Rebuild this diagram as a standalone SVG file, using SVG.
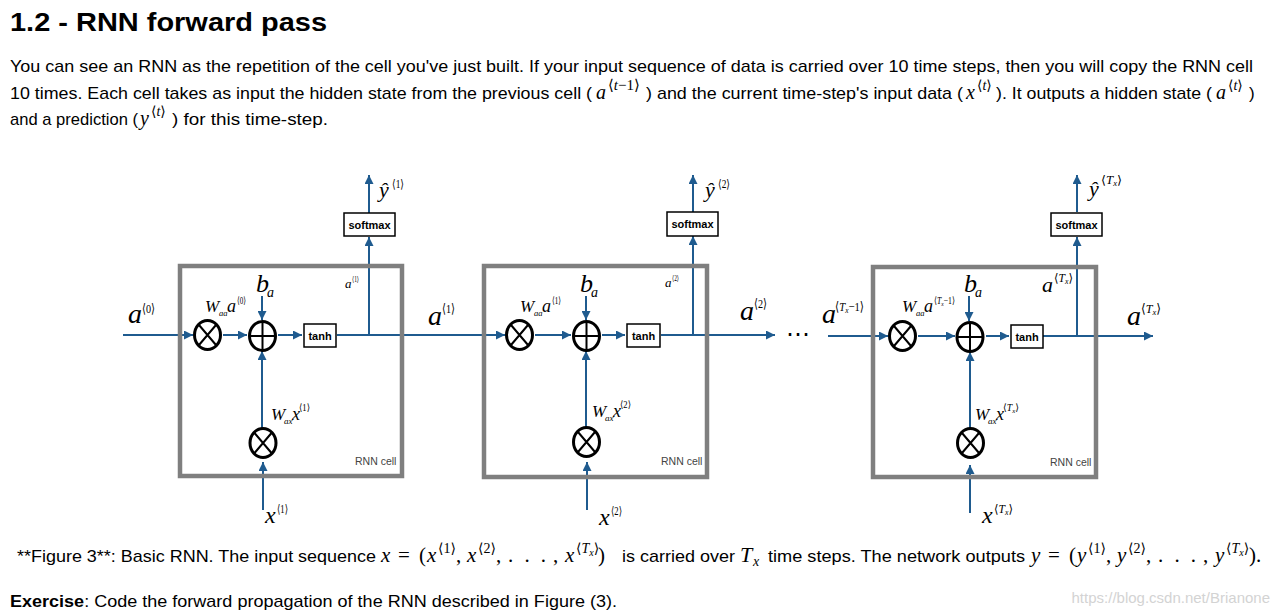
<svg xmlns="http://www.w3.org/2000/svg" width="1281" height="616" viewBox="0 0 1281 616">
<style>
.t{font-family:"Liberation Sans","DejaVu Sans",sans-serif;font-size:17px;fill:#000}
.h{font-family:"Liberation Sans","DejaVu Sans",sans-serif;font-size:26px;font-weight:bold;fill:#000}
.m{font-family:"Liberation Serif","DejaVu Serif",serif;font-style:italic;fill:#000}
.u{font-family:"Liberation Serif","DejaVu Serif",serif;font-style:normal;fill:#000}
.cell{fill:none;stroke:#7f7f7f;stroke-width:4.5}
.op{fill:#fff;stroke:#000;stroke-width:3}
.opl{stroke:#000;stroke-width:2;fill:none}
.bx{fill:#fff;stroke:#000;stroke-width:1.5}
.bt{font-family:"Liberation Sans","DejaVu Sans",sans-serif;font-size:11px;font-weight:bold;fill:#000;text-anchor:middle}
.rc{font-family:"Liberation Sans","DejaVu Sans",sans-serif;font-size:10.5px;fill:#444}
.c{fill:none;stroke:#1f5b8f;stroke-width:2;marker-end:url(#ah)}
</style>
<defs>
<marker id="ah" viewBox="0 0 10 10" refX="10" refY="5" markerUnits="userSpaceOnUse" markerWidth="10" markerHeight="9" orient="auto">
<path d="M0,0 L10,5 L0,10 z" fill="#1f5b8f"/>
</marker>
<g id="otimes"><ellipse class="op" cx="0" cy="0" rx="13" ry="14.5"/><path class="opl" d="M-8.5,-10 L8.5,10 M8.5,-10 L-8.5,10"/></g>
<g id="oplus"><ellipse class="op" cx="0" cy="0" rx="13" ry="14.5"/><path class="opl" d="M-13,0 H13 M0,-14.5 V14.5"/></g>
</defs>
<rect width="1281" height="616" fill="#fff"/>

<g id="text">
<text class="h" x="10" y="31" textLength="317" lengthAdjust="spacingAndGlyphs">1.2 - RNN forward pass</text>
<text class="t" x="10" y="72" textLength="1243" lengthAdjust="spacingAndGlyphs">You can see an RNN as the repetition of the cell you've just built. If your input sequence of data is carried over 10 time steps, then you will copy the RNN cell</text>
<text class="t" x="10" y="99" textLength="582" lengthAdjust="spacingAndGlyphs">10 times. Each cell takes as input the hidden state from the previous cell (</text>
<text class="m" x="596" y="99" font-size="20">a</text>
<text class="u" x="608" y="90" font-size="15">⟨<tspan class="m">t</tspan>−1⟩</text>
<text class="t" x="646" y="99" textLength="317" lengthAdjust="spacingAndGlyphs">) and the current time-step's input data (</text>
<text class="m" x="966" y="99" font-size="20">x</text>
<text class="u" x="977" y="90" font-size="14">⟨<tspan class="m">t</tspan>⟩</text>
<text class="t" x="996" y="99" textLength="216" lengthAdjust="spacingAndGlyphs">). It outputs a hidden state (</text>
<text class="m" x="1216" y="99" font-size="20">a</text>
<text class="u" x="1228" y="90" font-size="14">⟨<tspan class="m">t</tspan>⟩</text>
<text class="t" x="1249" y="99">)</text>
<text class="t" x="10" y="125" textLength="128" lengthAdjust="spacingAndGlyphs">and a prediction (</text>
<text class="m" x="140" y="125" font-size="20">y</text>
<text class="u" x="151" y="116" font-size="14">⟨<tspan class="m">t</tspan>⟩</text>
<text class="t" x="172" y="125" textLength="156" lengthAdjust="spacingAndGlyphs">) for this time-step.</text>

<text class="t" x="17" y="562" textLength="359" lengthAdjust="spacingAndGlyphs">**Figure 3**: Basic RNN. The input sequence</text>
<text class="m" x="381" y="562" font-size="21">x</text>
<text class="u" x="398" y="562" font-size="21">=</text>
<text class="u" x="419" y="562" font-size="21">(</text>
<text class="m" x="427" y="562" font-size="21">x</text>
<text class="u" x="438" y="553" font-size="14">⟨1⟩</text>
<text class="u" x="456" y="562" font-size="21">,</text>
<text class="m" x="467" y="562" font-size="21">x</text>
<text class="u" x="478" y="553" font-size="14">⟨2⟩</text>
<text class="u" x="496" y="562" font-size="21">,</text>
<text class="u" x="508" y="562" font-size="21" textLength="38" lengthAdjust="spacing">. . .</text>
<text class="u" x="553" y="562" font-size="21">,</text>
<text class="m" x="565" y="562" font-size="21">x</text>
<text class="u" x="576" y="553" font-size="14">⟨<tspan class="m">T</tspan><tspan class="m" font-size="10" dy="3">x</tspan><tspan dy="-3">⟩</tspan></text>
<text class="u" x="598" y="562" font-size="21">)</text>
<text class="t" x="622" y="562" textLength="113" lengthAdjust="spacingAndGlyphs">is carried over</text>
<text class="m" x="740" y="562" font-size="22">T</text>
<text class="m" x="753" y="566" font-size="14">x</text>
<text class="t" x="768" y="562" textLength="257" lengthAdjust="spacingAndGlyphs">time steps. The network outputs</text>
<text class="m" x="1031" y="562" font-size="21">y</text>
<text class="u" x="1048" y="562" font-size="21">=</text>
<text class="u" x="1069" y="562" font-size="21">(</text>
<text class="m" x="1077" y="562" font-size="21">y</text>
<text class="u" x="1088" y="553" font-size="14">⟨1⟩</text>
<text class="u" x="1106" y="562" font-size="21">,</text>
<text class="m" x="1117" y="562" font-size="21">y</text>
<text class="u" x="1128" y="553" font-size="14">⟨2⟩</text>
<text class="u" x="1146" y="562" font-size="21">,</text>
<text class="u" x="1158" y="562" font-size="21" textLength="38" lengthAdjust="spacing">. . .</text>
<text class="u" x="1203" y="562" font-size="21">,</text>
<text class="m" x="1215" y="562" font-size="21">y</text>
<text class="u" x="1226" y="553" font-size="14">⟨<tspan class="m">T</tspan><tspan class="m" font-size="10" dy="3">x</tspan><tspan dy="-3">⟩</tspan></text>
<text class="u" x="1249" y="562" font-size="21">).</text>

<text class="t" x="10" y="607" textLength="607" lengthAdjust="spacingAndGlyphs"><tspan font-weight="bold">Exercise</tspan>: Code the forward propagation of the RNN described in Figure (3).</text>
<text x="1270" y="603" text-anchor="end" font-family="Liberation Sans, sans-serif" font-size="15" fill="#d3d3d3">https://blog.csdn.net/Brianone</text>
</g>

<g id="connectors">
<path class="c" d="M123,335 H193"/>
<path class="c" d="M223,335 H247"/>
<path class="c" d="M278,335 H302"/>
<path class="c" d="M337,335 H505"/>
<path class="c" d="M369,335 V237"/>
<path class="c" d="M369,213 V175"/>
<path class="c" d="M262,296 V320"/>
<path class="c" d="M262,428 V351"/>
<path class="c" d="M263,510 V462"/>

<path class="c" d="M535,335 H571"/>
<path class="c" d="M602,335 H625"/>
<path class="c" d="M661,335 H775"/>
<path class="c" d="M693,335 V236"/>
<path class="c" d="M693,212 V175"/>
<path class="c" d="M586,296 V320"/>
<path class="c" d="M586,427 V351"/>
<path class="c" d="M587,510 V462"/>

<path class="c" d="M828,336 H888"/>
<path class="c" d="M918,336 H955"/>
<path class="c" d="M986,336 H1009"/>
<path class="c" d="M1043,336 H1153"/>
<path class="c" d="M1077,336 V237"/>
<path class="c" d="M1077,212 V175"/>
<path class="c" d="M969,296 V321"/>
<path class="c" d="M970,428 V352"/>
<path class="c" d="M970,513 V465"/>
<text x="798" y="342" text-anchor="middle" font-family="DejaVu Sans, sans-serif" font-size="24" fill="#000">⋯</text>
</g>

<g id="cell1">
<rect class="cell" x="180" y="266" width="222" height="210"/>
<use href="#otimes" x="207.5" y="335"/>
<use href="#oplus" x="262.5" y="336"/>
<use href="#otimes" x="263" y="443"/>
<rect class="bx" x="304" y="324" width="32" height="23"/>
<text class="bt" x="320" y="340">tanh</text>
<rect class="bx" x="344" y="213" width="51" height="23"/>
<text class="bt" x="369.5" y="229">softmax</text>
<text class="rc" x="355" y="465">RNN cell</text>
<text class="m" x="128" y="323" font-size="28">a</text><text class="u" x="142" y="313" font-size="13" textLength="13" lengthAdjust="spacingAndGlyphs">⟨0⟩</text>
<text class="m" x="379" y="197" font-size="22">ŷ</text><text class="u" x="392" y="188" font-size="12" textLength="12" lengthAdjust="spacingAndGlyphs">⟨1⟩</text>
<text class="m" x="256" y="292" font-size="26">b</text><text class="m" x="267" y="297" font-size="14">a</text>
<text class="m" x="205" y="312" font-size="17">W</text><text class="m" x="219" y="316" font-size="8.5">aa</text><text class="m" x="227" y="312" font-size="18">a</text><text class="u" x="237" y="304" font-size="10" textLength="9" lengthAdjust="spacingAndGlyphs">⟨0⟩</text>
<text class="m" x="345" y="288" font-size="13">a</text><text class="u" x="352" y="282" font-size="8" textLength="7" lengthAdjust="spacingAndGlyphs">⟨1⟩</text>
<text class="m" x="271" y="420" font-size="17">W</text><text class="m" x="284" y="424" font-size="9">ax</text><text class="m" x="292" y="420" font-size="18">x</text><text class="u" x="299" y="411" font-size="10" textLength="11" lengthAdjust="spacingAndGlyphs">⟨1⟩</text>
<text class="m" x="265" y="523" font-size="24">x</text><text class="u" x="277" y="513" font-size="12" textLength="11" lengthAdjust="spacingAndGlyphs">⟨1⟩</text>
<text class="m" x="428" y="325" font-size="28">a</text><text class="u" x="442" y="313" font-size="13" textLength="13" lengthAdjust="spacingAndGlyphs">⟨1⟩</text>
</g>

<g id="cell2">
<rect class="cell" x="484" y="266" width="223" height="211"/>
<use href="#otimes" x="519.5" y="335"/>
<use href="#oplus" x="586.5" y="336"/>
<use href="#otimes" x="586.5" y="442"/>
<rect class="bx" x="627" y="324" width="33" height="23"/>
<text class="bt" x="643.5" y="340">tanh</text>
<rect class="bx" x="667" y="212" width="51" height="24"/>
<text class="bt" x="692.5" y="228">softmax</text>
<text class="rc" x="661" y="465">RNN cell</text>
<text class="m" x="705" y="197" font-size="22">ŷ</text><text class="u" x="718" y="188" font-size="12" textLength="12" lengthAdjust="spacingAndGlyphs">⟨2⟩</text>
<text class="m" x="580" y="292" font-size="26">b</text><text class="m" x="591" y="297" font-size="14">a</text>
<text class="m" x="520" y="312" font-size="17">W</text><text class="m" x="534" y="316" font-size="8.5">aa</text><text class="m" x="542" y="312" font-size="18">a</text><text class="u" x="552" y="304" font-size="10" textLength="9" lengthAdjust="spacingAndGlyphs">⟨1⟩</text>
<text class="m" x="665" y="287" font-size="13">a</text><text class="u" x="672" y="281" font-size="8" textLength="7" lengthAdjust="spacingAndGlyphs">⟨2⟩</text>
<text class="m" x="592" y="417" font-size="17">W</text><text class="m" x="605" y="421" font-size="9">ax</text><text class="m" x="613" y="417" font-size="18">x</text><text class="u" x="620" y="408" font-size="10" textLength="11" lengthAdjust="spacingAndGlyphs">⟨2⟩</text>
<text class="m" x="599" y="525" font-size="24">x</text><text class="u" x="611" y="515" font-size="12" textLength="11" lengthAdjust="spacingAndGlyphs">⟨2⟩</text>
<text class="m" x="740" y="320" font-size="28">a</text><text class="u" x="754" y="308" font-size="13" textLength="13" lengthAdjust="spacingAndGlyphs">⟨2⟩</text>
</g>

<g id="cell3">
<rect class="cell" x="873" y="267" width="223" height="210"/>
<use href="#otimes" x="902.5" y="336"/>
<use href="#oplus" x="970" y="337"/>
<use href="#otimes" x="970.5" y="443"/>
<rect class="bx" x="1011" y="325" width="32" height="23"/>
<text class="bt" x="1027" y="341">tanh</text>
<rect class="bx" x="1051" y="213" width="51" height="23"/>
<text class="bt" x="1076.5" y="229">softmax</text>
<text class="rc" x="1050" y="466">RNN cell</text>
<text class="m" x="1089" y="196" font-size="22">ŷ</text><text class="u" x="1101" y="184" font-size="12" textLength="21" lengthAdjust="spacingAndGlyphs">⟨<tspan class="m">T</tspan><tspan class="m" font-size="8" dy="2">x</tspan><tspan dy="-2">⟩</tspan></text>
<text class="m" x="964" y="292" font-size="26">b</text><text class="m" x="975" y="297" font-size="14">a</text>
<text class="m" x="902" y="312" font-size="17">W</text><text class="m" x="916" y="316" font-size="8.5">aa</text><text class="m" x="924" y="312" font-size="18">a</text><text class="u" x="934" y="304" font-size="10" textLength="21" lengthAdjust="spacingAndGlyphs">⟨<tspan class="m">T</tspan><tspan class="m" font-size="7" dy="2">x</tspan><tspan dy="-2">−1⟩</tspan></text>
<text class="m" x="1042" y="292" font-size="22">a</text><text class="u" x="1054" y="282" font-size="12" textLength="19" lengthAdjust="spacingAndGlyphs">⟨<tspan class="m">T</tspan><tspan class="m" font-size="8" dy="2">x</tspan><tspan dy="-2">⟩</tspan></text>
<text class="m" x="975" y="420" font-size="17">W</text><text class="m" x="988" y="424" font-size="9">ax</text><text class="m" x="996" y="420" font-size="18">x</text><text class="u" x="1003" y="411" font-size="10" textLength="16" lengthAdjust="spacingAndGlyphs">⟨<tspan class="m">T</tspan><tspan class="m" font-size="7" dy="2">x</tspan><tspan dy="-2">⟩</tspan></text>
<text class="m" x="982" y="523" font-size="24">x</text><text class="u" x="994" y="513" font-size="12" textLength="19" lengthAdjust="spacingAndGlyphs">⟨<tspan class="m">T</tspan><tspan class="m" font-size="8" dy="2">x</tspan><tspan dy="-2">⟩</tspan></text>
<text class="m" x="822" y="323" font-size="28">a</text><text class="u" x="835" y="311" font-size="13" textLength="29" lengthAdjust="spacingAndGlyphs">⟨<tspan class="m">T</tspan><tspan class="m" font-size="9" dy="2">x</tspan><tspan dy="-2">−1⟩</tspan></text>
<text class="m" x="1127" y="325" font-size="28">a</text><text class="u" x="1141" y="313" font-size="13" textLength="20" lengthAdjust="spacingAndGlyphs">⟨<tspan class="m">T</tspan><tspan class="m" font-size="9" dy="2">x</tspan><tspan dy="-2">⟩</tspan></text>
</g>
</svg>
